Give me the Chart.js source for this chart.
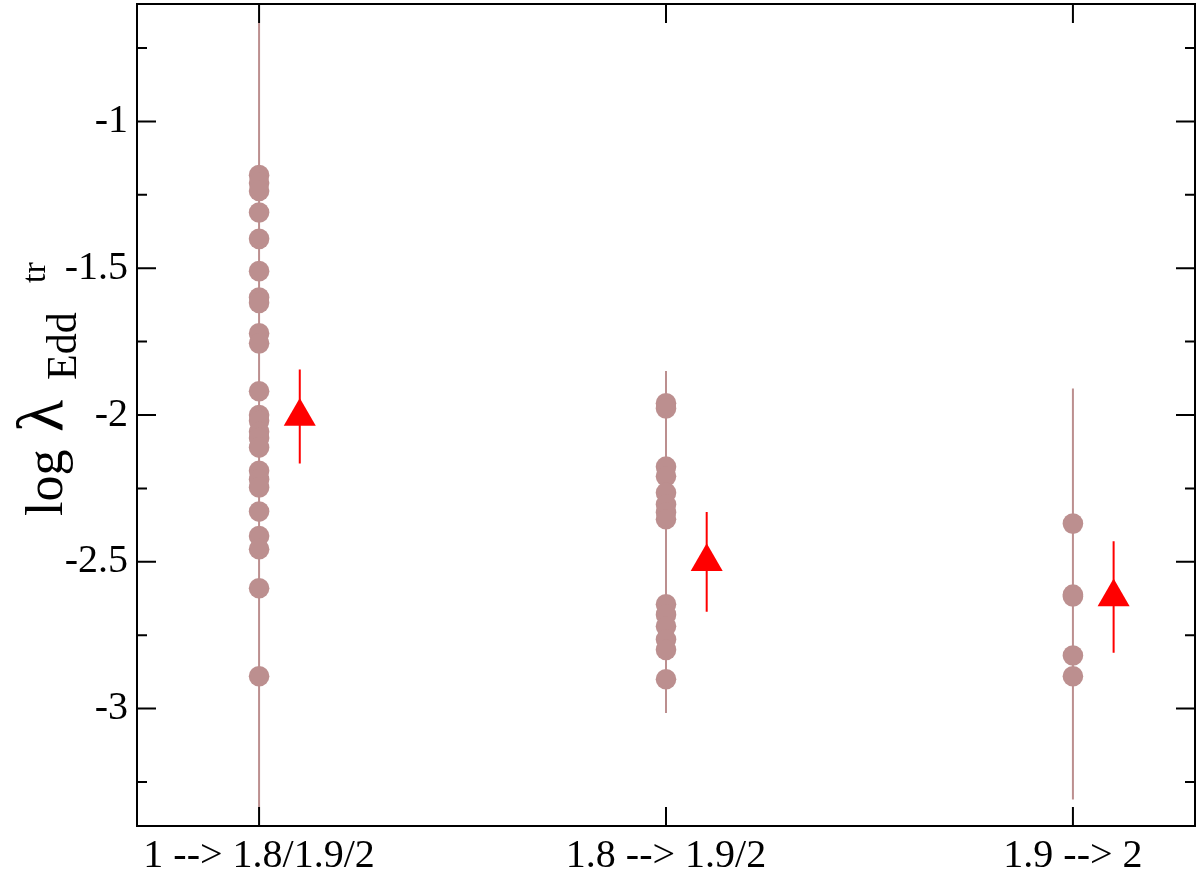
<!DOCTYPE html>
<html>
<head>
    <meta charset="UTF-8">
    <title>log lambda Edd tr</title>
    <script src="https://cdn.jsdelivr.net/npm/chart.js"></script>
    <style>
        body { margin: 0; background: #fff; }
        #wrap { width: 1200px; height: 871px; }
    </style>
</head>
<body>
    <div id="wrap"><canvas id="lamChart"></canvas></div>

    <script>
        // categories (x = 1, 2, 3)
        const categories = ['1 --> 1.8/1.9/2', '1.8 --> 1.9/2', '1.9 --> 2'];

        // individual sources per transition
        const group1 = [-1.183, -1.21, -1.237, -1.31, -1.40, -1.51, -1.60, -1.618, -1.722, -1.756,
                        -1.919, -2.0, -2.02, -2.057, -2.078, -2.111, -2.19, -2.22, -2.247, -2.329,
                        -2.412, -2.457, -2.59, -2.89];
        const group2 = [-1.96, -1.978, -2.176, -2.209, -2.265, -2.305, -2.332, -2.355,
                        -2.645, -2.68, -2.72, -2.765, -2.80, -2.90];
        const group3 = [-2.37, -2.612, -2.618, -2.819, -2.89];

        // full range lines
        const rangeTop = [-0.665, -1.85, -1.91];
        const rangeBottom = [-3.335, -3.015, -3.31];

        // mean values (triangles) with errors
        const meanX = [1.1, 2.1, 3.1];
        const meanY = [-2.005, -2.5, -2.62];
        const meanErr = [0.16, 0.17, 0.19];

        // ticks
        const xTickValues = [1, 2, 3];
        const yMajor = [-3, -2.5, -2, -1.5, -1];
        const yMinor = [-3.25, -2.75, -2.25, -1.75, -1.25, -0.75];

        const brown = '#bc8f8f';
        const red = '#ff0000';
        const serif = "'Liberation Serif', 'Times New Roman', serif";
        Chart.defaults.font.family = serif;
        Chart.defaults.color = '#000';

        const groups = [group1, group2, group3];
        const datasets = [];

        groups.forEach((g, i) => {
            datasets.push({
                data: [{x: i + 1, y: rangeTop[i]}, {x: i + 1, y: rangeBottom[i]}],
                showLine: true, borderColor: brown, borderWidth: 2,
                pointRadius: 0, order: 3
            });
            datasets.push({
                data: g.map(v => ({x: i + 1, y: v})),
                backgroundColor: brown, borderWidth: 0,
                pointRadius: 10.3, pointStyle: 'circle', order: 1
            });
        });

        meanX.forEach((mx, i) => {
            datasets.push({
                data: [{x: mx, y: meanY[i] + meanErr[i]}, {x: mx, y: meanY[i] - meanErr[i]}],
                showLine: true, borderColor: red, borderWidth: 2,
                pointRadius: 0, order: 2
            });
        });
        datasets.push({
            data: meanX.map((mx, i) => ({x: mx, y: meanY[i]})),
            backgroundColor: red, borderWidth: 0,
            pointStyle: 'triangle', pointRadius: 18.5, order: 1
        });

        // inward ticks, frame and axis title
        const frameTicks = {
            id: 'frameTicks',
            afterDatasetsDraw(chart) {
                const {ctx, chartArea: a, scales: {x, y}} = chart;
                ctx.save();
                ctx.strokeStyle = '#000';
                ctx.lineWidth = 2;
                ctx.beginPath();
                xTickValues.forEach(v => {
                    const px = x.getPixelForValue(v);
                    ctx.moveTo(px, a.bottom); ctx.lineTo(px, a.bottom - 19);
                    ctx.moveTo(px, a.top); ctx.lineTo(px, a.top + 19);
                });
                yMajor.forEach(v => {
                    const py = y.getPixelForValue(v);
                    ctx.moveTo(a.left, py); ctx.lineTo(a.left + 19, py);
                    ctx.moveTo(a.right, py); ctx.lineTo(a.right - 19, py);
                });
                yMinor.forEach(v => {
                    const py = y.getPixelForValue(v);
                    ctx.moveTo(a.left, py); ctx.lineTo(a.left + 10, py);
                    ctx.moveTo(a.right, py); ctx.lineTo(a.right - 10, py);
                });
                ctx.stroke();
                ctx.strokeRect(a.left, a.top, a.right - a.left, a.bottom - a.top);
                ctx.restore();
            },
            afterDraw(chart) {
                const ctx = chart.ctx;
                ctx.save();
                ctx.translate(62, 516);
                ctx.rotate(-Math.PI / 2);
                ctx.fillStyle = '#000';
                ctx.textBaseline = 'alphabetic';
                ctx.textAlign = 'left';
                ctx.font = '52px ' + serif;
                ctx.fillText('log', 0, 0);
                ctx.font = '66px ' + serif;
                ctx.fillText('\u03bb', 84, 0);
                ctx.font = '42px ' + serif;
                ctx.fillText('Edd', 136, 14);
                ctx.font = '34px ' + serif;
                ctx.fillText('tr', 233, -17);
                ctx.restore();
            }
        };

        new Chart(document.getElementById('lamChart'), {
            type: 'scatter',
            data: { datasets },
            options: {
                responsive: true,
                maintainAspectRatio: false,
                animation: false,
                layout: { autoPadding: false, padding: { left: 0, top: 4, right: 5, bottom: 0 } },
                plugins: { legend: { display: false }, tooltip: { enabled: false } },
                scales: {
                    x: {
                        type: 'linear', min: 0.7, max: 3.3,
                        afterBuildTicks: s => { s.ticks = xTickValues.map(v => ({value: v})); },
                        afterFit: s => { s.height = 45; s.paddingLeft = 0; s.paddingRight = 0; },
                        grid: { display: false, drawTicks: false },
                        border: { display: false },
                        ticks: {
                            font: { size: 40 }, padding: 6, maxRotation: 0, autoSkip: false,
                            callback: v => categories[v - 1]
                        }
                    },
                    y: {
                        type: 'linear', min: -3.4, max: -0.6,
                        afterBuildTicks: s => { s.ticks = yMajor.map(v => ({value: v})); },
                        afterFit: s => { s.width = 137; s.paddingTop = 0; s.paddingBottom = 0; },
                        grid: { display: false, drawTicks: false },
                        border: { display: false },
                        ticks: {
                            font: { size: 40 }, padding: 9, autoSkip: false,
                            callback: v => String(v)
                        }
                    }
                }
            },
            plugins: [frameTicks]
        });
    </script>
</body>
</html>
